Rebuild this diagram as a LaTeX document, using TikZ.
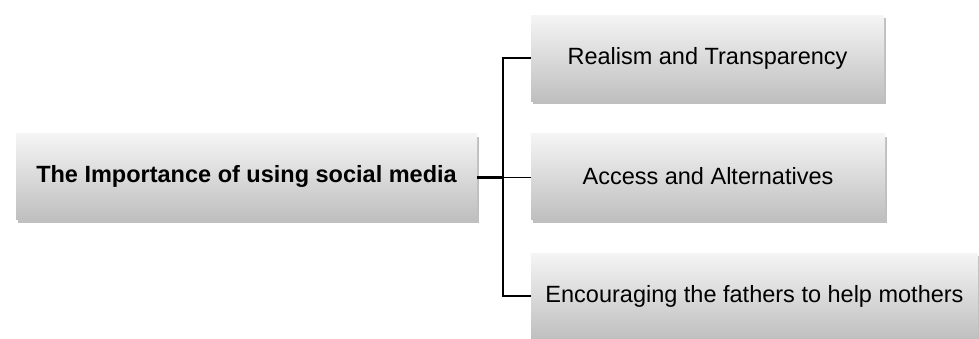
\documentclass[tikz,border=0pt]{standalone}
\usepackage{fontspec}
\setmainfont{Liberation Sans}
\usetikzlibrary{shadows}

\tikzset{
  box/.style={rectangle, inner sep=0pt, minimum height=86pt,
    top color=gray!8, bottom color=gray!50,
    drop shadow={shadow xshift=1.5pt, shadow yshift=-3pt, opacity=0.25, fill=black},
    font=\fontsize{23.5}{28}\selectfont},
  trunk/.style={line width=3pt},
  branch/.style={line width=1.3pt}
}

\begin{document}
\begin{tikzpicture}[x=1pt,y=1pt]
\useasboundingbox (0,0) rectangle (979,-338);
% Main topic
\node[box, minimum width=461pt, font=\fontsize{23.5}{28}\selectfont\bfseries] (root) at (246.5,-176.5) {The Importance of using social media};
% Sub topics
\node[box, minimum width=353pt] (realism) at (707.5,-58) {Realism and Transparency};
\node[box, minimum width=354pt] (access) at (708,-176.5) {Access and Alternatives};
\node[box, minimum width=447pt] (fathers) at (754.5,-296) {Encouraging the fathers to help mothers};
% Connectors
\coordinate (hub) at (503,-177.5);
\draw[trunk] (root.east |- hub) -- (hub);
\draw[branch] (hub) |- (realism.west);
\draw[branch] (hub) -- (access.west |- hub);
\draw[branch] (hub) |- (fathers.west);
\end{tikzpicture}
\end{document}
